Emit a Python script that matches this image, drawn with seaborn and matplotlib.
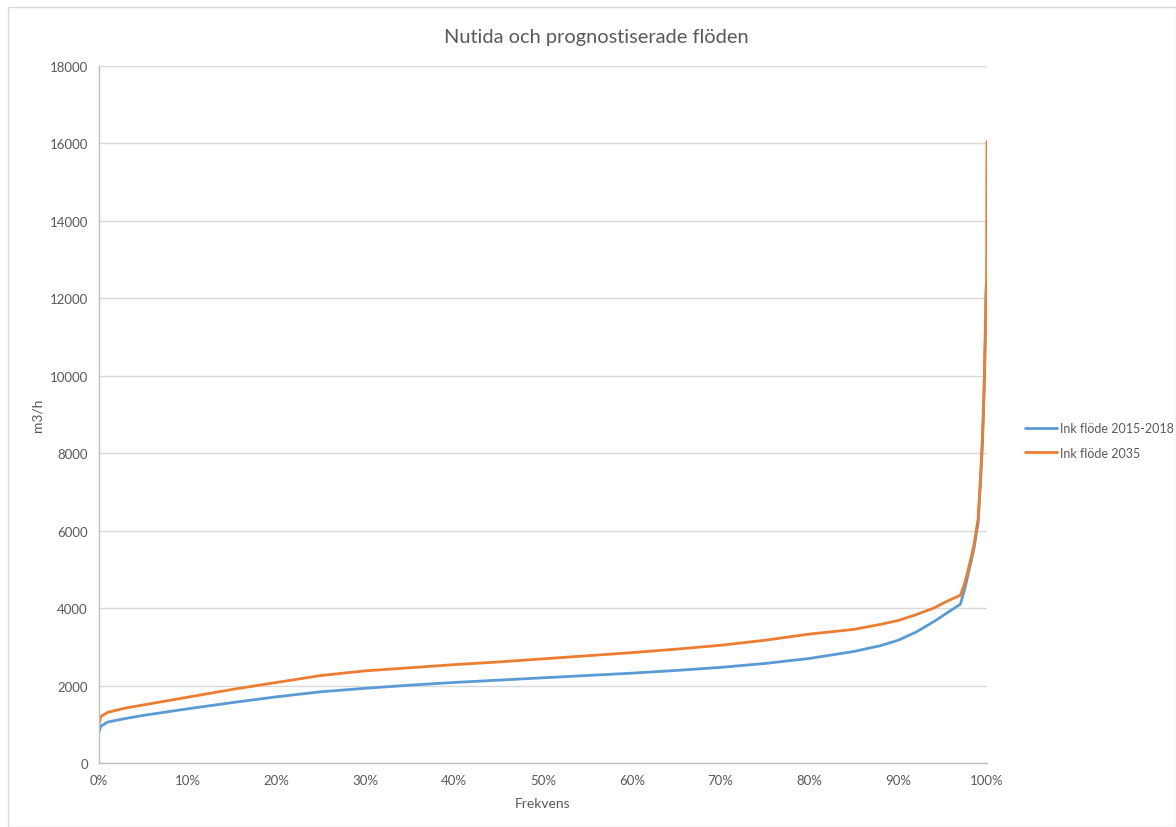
import matplotlib
matplotlib.use("Agg")
import matplotlib.pyplot as plt
from matplotlib.patches import Rectangle
from matplotlib.ticker import FuncFormatter, MultipleLocator
import seaborn as sns
import pandas as pd

# Duration curve: share of time (%) versus flow (m3/h)
frekvens = [0, 0.2, 1, 3, 5, 10, 15, 20, 25, 30, 35, 40, 45, 50, 55, 60, 65,
            70, 75, 80, 85, 88, 90, 92, 94, 95, 96, 97, 97.5, 98, 98.5, 99,
            99.3, 99.5, 99.7, 99.8, 99.9, 99.95, 100]
flode_2015_2018 = [800, 950, 1060, 1150, 1230, 1400, 1560, 1710, 1840, 1930,
                   2010, 2080, 2140, 2200, 2260, 2320, 2390, 2470, 2570, 2700,
                   2880, 3030, 3170, 3380, 3650, 3800, 3950, 4100, 4500, 5000,
                   5500, 6200, 7400, 8300, 9800, 11000, 12200, 12400, 12400]
flode_2035 = [1000, 1200, 1310, 1420, 1500, 1700, 1900, 2080, 2260, 2380,
              2460, 2540, 2610, 2690, 2770, 2850, 2940, 3040, 3170, 3330,
              3450, 3580, 3680, 3830, 4000, 4120, 4230, 4330, 4650, 5100,
              5600, 6300, 7500, 8500, 9900, 11000, 12200, 12400, 16050]
serie_namn = ["Ink flöde 2015-2018", "Ink flöde 2035"]
serie_farger = ["#5B9BD5", "#ED7D31"]

df = pd.concat([
    pd.DataFrame({"Frekvens": [f / 100 for f in frekvens], "Flöde": flode_2015_2018, "Serie": serie_namn[0]}),
    pd.DataFrame({"Frekvens": [f / 100 for f in frekvens], "Flöde": flode_2035, "Serie": serie_namn[1]}),
], ignore_index=True)

sns.set_theme(style="white")
plt.rcParams["font.family"] = ["Lato", "DejaVu Sans"]

text_grey = "#595959"
fig = plt.figure(figsize=(11.76, 8.28), dpi=100)
ax = fig.add_axes([99 / 1176, 64 / 828, 888 / 1176, 697 / 828])

sns.lineplot(data=df, x="Frekvens", y="Flöde", hue="Serie", palette=serie_farger,
             linewidth=2.0, ax=ax, sort=False, estimator=None)

ax.set_xlim(0, 1)
ax.set_ylim(0, 18000)
ax.xaxis.set_major_locator(MultipleLocator(0.1))
ax.xaxis.set_major_formatter(FuncFormatter(lambda v, _: f"{round(v * 100)}%"))
ax.yaxis.set_major_locator(MultipleLocator(2000))
ax.grid(axis="y", color="#d9d9d9", linewidth=1.0)
ax.set_axisbelow(True)
for s in ["top", "right"]:
    ax.spines[s].set_visible(False)
for s in ["left", "bottom"]:
    ax.spines[s].set_color("#bfbfbf")
    ax.spines[s].set_linewidth(1.0)
ax.tick_params(axis="both", length=0, labelsize=9.5, labelcolor=text_grey, pad=8)
ax.set_xlabel("Frekvens", fontsize=10, color=text_grey, labelpad=8)
ax.set_ylabel("m3/h", fontsize=10, color=text_grey, labelpad=4)
fig.text(596 / 1176, 1 - 38 / 828, "Nutida och prognostiserade flöden", fontsize=14.4,
         color=text_grey, ha="center", va="center")

leg = ax.legend(loc="center left", bbox_to_anchor=(1.037, 0.463), frameon=False,
                fontsize=9, handlelength=2.6, handletextpad=0.2, labelspacing=1.0,
                borderaxespad=0.0)
for t in leg.get_texts():
    t.set_color(text_grey)

fig.patches.append(Rectangle((8 / 1176, 0), 1 - 8 / 1176, 1 - 8 / 828, transform=fig.transFigure,
                             fill=False, edgecolor="#d9d9d9", linewidth=1.0))

fig.savefig("out.png", dpi=100, facecolor="white")
